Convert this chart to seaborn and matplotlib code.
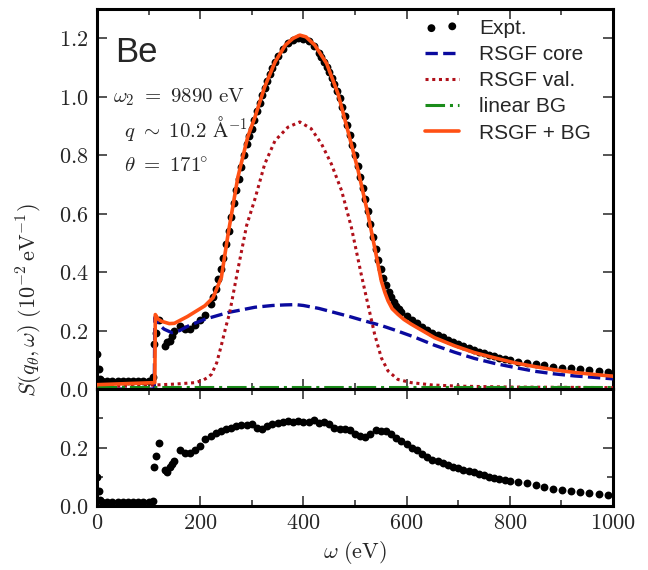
import matplotlib
matplotlib.use("Agg")
import matplotlib.pyplot as plt
import seaborn as sns
from matplotlib.ticker import MultipleLocator, FuncFormatter

# ---------------- data ----------------
omega_top = [0, 3, 6, 10, 20, 30, 40, 50, 60, 70, 80, 90, 100, 108, 111, 115, 121,
             131, 135, 141, 145, 150, 160, 170, 180, 190, 200, 210, 220, 225, 230,
             235, 240, 245, 250, 255, 260, 265, 270, 275, 280, 285, 290, 295, 300,
             305, 310, 315, 320, 325, 330, 335, 340, 345, 350, 360, 370, 380, 390,
             400, 410, 420, 430, 435, 440, 445, 450, 455, 460, 465, 470, 475, 480,
             485, 490, 495, 500, 505, 510, 515, 520, 525, 530, 535, 540, 545, 550,
             555, 560, 565, 570, 575, 580, 585, 590, 600, 610, 620, 630, 640, 650,
             660, 670, 680, 690, 700, 710, 720, 730, 740, 750, 760, 770, 780, 790,
             800, 816, 833, 850, 867, 884, 901, 919, 936, 954, 972, 990]

expt = [0.120, 0.070, 0.035, 0.028, 0.027, 0.027, 0.026, 0.026, 0.026, 0.026, 0.027,
        0.027, 0.028, 0.040, 0.153, 0.193, 0.235, 0.147, 0.160, 0.165, 0.182, 0.198,
        0.216, 0.205, 0.205, 0.218, 0.235, 0.255, 0.290, 0.315, 0.343, 0.375, 0.410,
        0.450, 0.495, 0.540, 0.590, 0.635, 0.680, 0.720, 0.760, 0.800, 0.840, 0.865,
        0.890, 0.920, 0.950, 0.978, 1.005, 1.030, 1.055, 1.078, 1.100, 1.120, 1.140,
        1.165, 1.185, 1.195, 1.200, 1.198, 1.190, 1.175, 1.150, 1.136, 1.120, 1.103,
        1.085, 1.065, 1.045, 1.020, 0.995, 0.965, 0.935, 0.903, 0.870, 0.835, 0.800,
        0.763, 0.725, 0.688, 0.650, 0.608, 0.565, 0.522, 0.480, 0.443, 0.410, 0.380,
        0.355, 0.333, 0.315, 0.299, 0.285, 0.274, 0.265, 0.250, 0.238, 0.225, 0.213,
        0.202, 0.193, 0.185, 0.177, 0.169, 0.161, 0.154, 0.147, 0.140, 0.134, 0.128,
        0.122, 0.117, 0.113, 0.108, 0.104, 0.100, 0.094, 0.089, 0.085, 0.081, 0.077,
        0.073, 0.071, 0.068, 0.065, 0.062, 0.059]

omega_res = [0, 3, 6, 10, 20, 30, 40, 50, 60, 70, 80, 90, 100, 108, 111, 115, 121,
             131, 135, 141, 145, 150, 160, 170, 180, 190, 200, 210, 220, 230, 240,
             250, 260, 270, 280, 290, 300, 310, 320, 330, 340, 350, 360, 370, 380,
             390, 400, 410, 420, 430, 440, 450, 460, 470, 480, 490, 500, 510, 520,
             530, 540, 550, 560, 570, 580, 590, 600, 610, 620, 630, 640, 650, 660,
             670, 680, 690, 700, 710, 720, 730, 740, 750, 760, 770, 780, 790, 800,
             816, 833, 850, 867, 884, 901, 919, 936, 954, 972, 990]

residual = [0.100, 0.050, 0.022, 0.015, 0.013, 0.013, 0.012, 0.012, 0.012, 0.012,
            0.012, 0.013, 0.013, 0.018, 0.132, 0.172, 0.214, 0.123, 0.117, 0.134,
            0.142, 0.155, 0.190, 0.180, 0.180, 0.190, 0.205, 0.228, 0.240, 0.250,
            0.258, 0.263, 0.268, 0.272, 0.276, 0.278, 0.279, 0.266, 0.263, 0.274,
            0.280, 0.284, 0.288, 0.290, 0.289, 0.290, 0.287, 0.286, 0.294, 0.284,
            0.289, 0.279, 0.268, 0.265, 0.262, 0.259, 0.248, 0.240, 0.237, 0.246,
            0.259, 0.257, 0.256, 0.245, 0.233, 0.222, 0.212, 0.200, 0.190, 0.178,
            0.166, 0.159, 0.153, 0.147, 0.141, 0.135, 0.130, 0.124, 0.120, 0.116,
            0.110, 0.105, 0.100, 0.097, 0.093, 0.089, 0.085, 0.081, 0.077, 0.072,
            0.065, 0.059, 0.056, 0.051, 0.048, 0.044, 0.041, 0.039]

omega_core = [0, 111, 112, 119, 130, 145, 160, 177, 209, 254, 306, 340, 364, 385,
              400, 430, 460, 490, 519, 550, 577, 615, 654, 693, 731, 770, 809, 848,
              886, 925, 964, 1000]
core = [0.0, 0.0, 0.245, 0.222, 0.205, 0.193, 0.200, 0.216, 0.239, 0.262, 0.280,
        0.286, 0.288, 0.289, 0.286, 0.276, 0.262, 0.248, 0.233, 0.218, 0.202, 0.178,
        0.150, 0.126, 0.105, 0.088, 0.074, 0.061, 0.052, 0.045, 0.040, 0.035]

omega_val = [0, 112, 150, 190, 205, 215, 222, 232, 241, 250, 257, 272, 290, 306, 325,
             345, 370, 393, 415, 435, 454, 474, 493, 512, 525, 538, 551, 564, 583,
             609, 650, 700, 800, 1000]
val = [0.008, 0.014, 0.017, 0.022, 0.030, 0.040, 0.051, 0.090, 0.150, 0.215, 0.260,
       0.400, 0.560, 0.650, 0.770, 0.850, 0.896, 0.914, 0.891, 0.839, 0.771, 0.679,
       0.553, 0.393, 0.290, 0.188, 0.107, 0.062, 0.033, 0.022, 0.014, 0.010, 0.007,
       0.005]

omega_bg = [0, 1000]
bg = [0.006, 0.006]

omega_fit = [0, 112, 113, 118, 125, 140, 150, 175, 209, 225, 241, 254, 273, 292, 306,
             325, 345, 365, 380, 393, 405, 422, 445, 467, 486, 506, 525, 538, 551,
             558, 564, 572, 583, 595, 609, 654, 693, 731, 770, 809, 848, 886, 925,
             964, 1000]
fit = [0.015, 0.022, 0.255, 0.240, 0.232, 0.224, 0.225, 0.248, 0.285, 0.313, 0.382,
       0.530, 0.725, 0.862, 0.930, 1.034, 1.119, 1.177, 1.200, 1.211, 1.205, 1.177,
       1.114, 1.011, 0.885, 0.748, 0.599, 0.485, 0.370, 0.330, 0.302, 0.275, 0.256,
       0.238, 0.222, 0.176, 0.148, 0.125, 0.107, 0.090, 0.077, 0.066, 0.057, 0.050,
       0.044]

labels = ["Expt.", "RSGF core", "RSGF val.", "linear BG", "RSGF + BG"]
colors = ["black", "#0a0a9e", "#b0101a", "#1a8c1a", "#ff5014"]

# ---------------- style ----------------
sns.set_style("ticks", {"xtick.direction": "in", "ytick.direction": "in",
                        "axes.edgecolor": "black"})
plt.rcParams["font.family"] = ["Liberation Sans", "DejaVu Sans"]
plt.rcParams["mathtext.fontset"] = "cm"

fig = plt.figure(figsize=(6.48, 5.70), dpi=100)
gs = fig.add_gridspec(2, 1, height_ratios=[1.3, 0.4], hspace=0,
                      left=0.1497, right=0.946, top=0.984, bottom=0.1123)
ax = fig.add_subplot(gs[0])
axb = fig.add_subplot(gs[1], sharex=ax)

ms = 32
sns.scatterplot(x=omega_top, y=expt, ax=ax, color=colors[0], s=ms, linewidth=0,
                label=labels[0], zorder=2)
sns.lineplot(x=omega_core, y=core, ax=ax, color=colors[1], lw=2.4, ls="--",
             label=labels[1], estimator=None, sort=False, zorder=3)
sns.lineplot(x=omega_val, y=val, ax=ax, color=colors[2], lw=2.2, ls=":",
             label=labels[2], estimator=None, sort=False, zorder=3)
ax.lines[-1].set_dashes([1, 1.2])
sns.lineplot(x=omega_bg, y=bg, ax=ax, color=colors[3], lw=2.2, ls="-.",
             label=labels[3], estimator=None, sort=False, zorder=3)
sns.lineplot(x=omega_fit, y=fit, ax=ax, color=colors[4], lw=2.6, ls="-",
             label=labels[4], estimator=None, sort=False, zorder=4)

sns.scatterplot(x=omega_res, y=residual, ax=axb, color="black", s=ms, linewidth=0,
                legend=False)

# ---------------- axes ----------------
fmt = FuncFormatter(lambda v, p: r"$%.1f$" % v)
fmtx = FuncFormatter(lambda v, p: r"$%d$" % round(v))

ax.set_xlim(0, 1000)
ax.set_ylim(0, 1.3)
axb.set_ylim(0, 0.4)

for a in (ax, axb):
    a.xaxis.set_major_locator(MultipleLocator(200))
    a.xaxis.set_minor_locator(MultipleLocator(100))
    a.tick_params(which="both", top=True, right=True, direction="in",
                  width=1.1, labelsize=16)
    a.tick_params(which="major", length=7)
    a.tick_params(which="minor", length=4)
    a.tick_params(axis="y", pad=6)
    a.tick_params(axis="x", pad=5)
    for s in a.spines.values():
        s.set_linewidth(2.2)
        s.set_color("black")
    a.set_xlabel("")
    a.set_ylabel("")

ax.yaxis.set_major_locator(MultipleLocator(0.2))
ax.yaxis.set_major_formatter(fmt)
ax.tick_params(axis="x", labelbottom=False)

axb.yaxis.set_major_locator(MultipleLocator(0.2))
axb.yaxis.set_minor_locator(MultipleLocator(0.1))
axb.yaxis.set_major_formatter(FuncFormatter(
    lambda v, p: "" if v > 0.35 else r"$%.1f$" % v))
axb.xaxis.set_major_formatter(fmtx)
axb.set_xlabel(r"$\omega\ (\mathrm{eV})$", fontsize=16, labelpad=4)

fig.text(30 / 648, 1 - 300 / 570,
         r"$S(q_\theta,\omega)\ (10^{-2}\,\mathrm{eV}^{-1})$",
         rotation=90, ha="center", va="center", fontsize=16)

# ---------------- annotations ----------------
ax.text(0.035, 0.861, "Be", transform=ax.transAxes, fontsize=25,
        ha="left", va="baseline")
ax.text(0.031, 0.755, r"$\omega_2\ =\ 9890\ \mathrm{eV}$", transform=ax.transAxes,
        fontsize=15, ha="left", va="baseline")
ax.text(0.052, 0.663, r"$q\ \sim\ 10.2\ \mathrm{\AA}^{-1}$", transform=ax.transAxes,
        fontsize=15, ha="left", va="baseline")
ax.text(0.052, 0.571, r"$\theta\ =\ 171^{\!\!\circ}$", transform=ax.transAxes,
        fontsize=15, ha="left", va="baseline")

ax.legend(loc="upper left", bbox_to_anchor=(0.636, 0.975), frameon=False,
          fontsize=15, scatterpoints=2, handlelength=1.6, handletextpad=1.0,
          labelspacing=0.35, borderpad=0, borderaxespad=0)

fig.savefig("out.png", dpi=100)
